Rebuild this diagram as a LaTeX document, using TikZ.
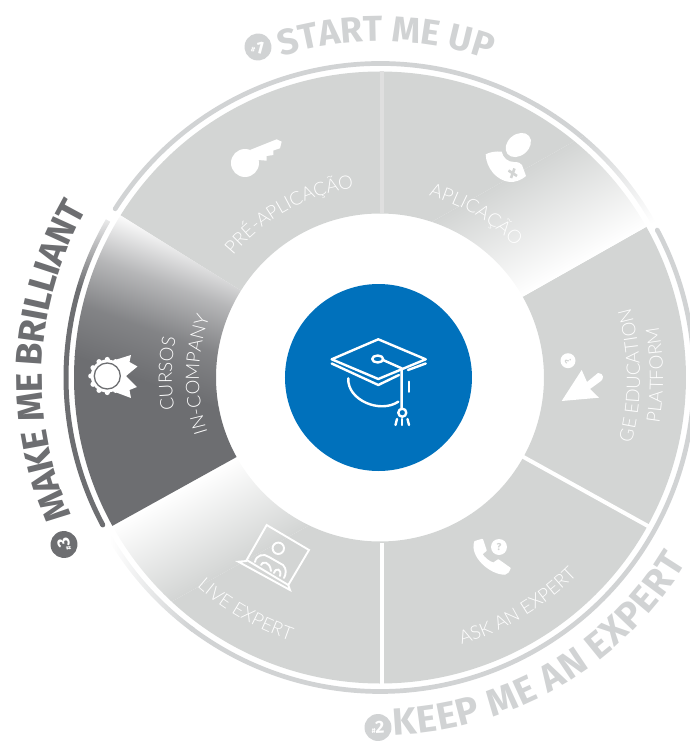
\documentclass[tikz,border=0pt]{standalone}
\usepackage{fontspec}
\usetikzlibrary{decorations.text}
\newfontfamily\headfont{Fira Sans}
\newfontfamily\labelfont{Lato Light}
\definecolor{wheelgray}{HTML}{D3D5D4}
\definecolor{titlegray}{HTML}{D1D3D4}
\definecolor{darkgray}{HTML}{6D6E71}
\definecolor{capblue}{HTML}{0071BC}
\def\rin{164}
\def\rout{306}
\pgfdeclarehorizontalshading{darkfade}{100bp}{color(0bp)=(white); color(25bp)=(white); color(42bp)=(darkgray!50!white); color(58bp)=(darkgray!85!white); color(75bp)=(darkgray); color(100bp)=(darkgray)}
% ring or wedge between two angles and two radii
\newcommand{\sector}[4]{({#1}:#3) -- ({#1}:#4) arc[start angle=#1,end angle=#2,radius=#4] -- ({#2}:#3) arc[start angle=#2,end angle=#1,radius=#3] -- cycle}
% text on an arc, tops outward
\newcommand{\textcw}[4]{\path[decorate,decoration={text along path,text align=center,text={|#3|#4}}] ({#1+75}:#2) arc[start angle=#1+75,end angle=#1-75,radius=#2];}
% text on an arc, tops to the centre
\newcommand{\textccw}[4]{\path[decorate,decoration={text along path,text align=center,text={|#3|#4}}] ({#1-75}:#2) arc[start angle=#1-75,end angle=#1+75,radius=#2];}
\newcommand{\labelfmt}{\labelfont\fontsize{18.6}{19}\selectfont\color{white}}
\tikzset{
  x=1pt,y=1pt,
  wedge/.style={fill=wheelgray},
  ringline/.style={draw=titlegray,line width=4.7pt,line cap=round},
  px/.style={shift={(-380,377.5)},yscale=-1},
  icon/.style={fill=white,draw=none},
  thinicon/.style={draw=white,line width=2.4pt,line cap=round,line join=round},
  laptopline/.style={draw=white,line width=1.9pt,line cap=round,line join=miter},
  numdot/.style={circle,minimum size=27pt,inner sep=0pt,font=\headfont\bfseries\fontsize{17.5}{17.5}\selectfont,text=white},
}
\newcommand{\numtext}[1]{{\fontsize{7}{7}\selectfont\#}#1}

\begin{document}
\begin{tikzpicture}
  \useasboundingbox (-380,-364.5) rectangle (309,377.5);
  % wedges
  \path[wedge] \sector{90}{148}{\rin}{\rout};
  \path[wedge] \sector{29.5}{-29}{\rin}{\rout};
  \path[wedge] \sector{-29}{-90}{\rin}{\rout};
  \begin{scope}
    \clip \sector{29.5}{90}{\rin}{\rout};
    \begin{scope}[transform canvas={rotate=-60.5}]
      \shade[left color=wheelgray,right color=white] (-110,-400) rectangle (0,400);
      \fill[wheelgray] (-400,-400) rectangle (-110,400);
    \end{scope}
  \end{scope}
  \begin{scope}
    \clip \sector{209}{270}{\rin}{\rout};
    \begin{scope}[transform canvas={rotate=-61}]
      \shade[left color=white,right color=wheelgray] (0,-400) rectangle (95,400);
      \fill[wheelgray] (95,-400) rectangle (400,400);
    \end{scope}
  \end{scope}
  \begin{scope}
    \clip \sector{148}{209}{\rin}{\rout};
    \begin{scope}[transform canvas={rotate=-110}]
      \shade[shading=darkfade] (-66,-500) rectangle (85,500);
      \fill[darkgray] (84,-500) rectangle (500,500);
    \end{scope}
  \end{scope}
  % gaps between the wedges
  \draw[line width=4pt,draw=white] (2.5,-\rin-1) -- (2.5,-\rout-1);
  \draw[line width=4pt,draw=white] (-29:\rin-1) -- (-29:\rout+1);
  \draw[line width=4pt,draw=gray!25] (2.5,\rin) -- (2.5,\rout);
  % outer ring
  \draw[ringline] (147.5:314) arc[start angle=147.5,end angle=60,radius=314];
  \begin{scope}
    \clip \sector{29}{60.1}{311.6}{316.4};
    \begin{scope}[transform canvas={rotate=-60.5}]
      \shade[left color=titlegray,right color=white] (-110,-400) rectangle (0,400);
      \fill[titlegray] (-400,-400) rectangle (-110,400);
    \end{scope}
  \end{scope}
  \draw[ringline] (28:314) arc[start angle=28,end angle=-127,radius=314];
  \begin{scope}
    \clip \sector{209}{233.5}{311.6}{316.4};
    \shade[left color=white,right color=titlegray] (-270,-300) rectangle (-190,-100);
    \fill[titlegray] (-190,-300) rectangle (0,-100);
  \end{scope}
  \begin{scope}
    \clip \sector{150}{208}{311.5}{316.5};
    \shade[top color=white,bottom color=darkgray] (-400,170) rectangle (-100,90);
    \fill[darkgray] (-400,90) rectangle (-100,-200);
  \end{scope}
  \fill[darkgray] (208:314) circle (2.5);
  % titles
  \textcw{89}{336}{\headfont\bfseries\fontsize{36}{36}\selectfont\color{titlegray}}{START ME UP}
  \textccw{-59.5}{358}{\headfont\bfseries\fontsize{38}{38}\selectfont\kern0.9pt\color{titlegray}}{KEEP ME AN EXPERT}
  \textcw{177}{338}{\headfont\bfseries\fontsize{37}{37}\selectfont\kern-0.8pt\color{darkgray}}{MAKE ME BRILLIANT}
  \node[numdot,fill=titlegray,rotate=-15] (num_1) at (-122,330.5) {\numtext{1}};
  \node[numdot,fill=titlegray,rotate=3] (num_2) at (-2,-350) {\numtext{2}};
  \node[numdot,fill=darkgray,rotate=105] (num_3) at (-316,-167) {\numtext{3}};
  % labels of the wedges
  \textcw{119}{191}{\labelfmt}{PRÉ-APLICAÇÃO}
  \textcw{59.5}{188}{\labelfmt}{APLICAÇÃO}
  \textcw{179}{208}{\labelfmt}{CURSOS}
  \textcw{179}{181}{\labelfmt}{IN-COMPANY}
  \textccw{0.5}{260}{\labelfmt}{GE EDUCATION}
  \textccw{0.5}{283}{\labelfmt}{PLATFORM}
  \textccw{240}{278}{\labelfmt}{LIVE EXPERT}
  \textccw{-59}{279}{\labelfmt}{ASK AN EXPERT}
  % centre
  \fill[capblue] (-1.5,0) circle (93.5);
  \begin{scope}[px]
    % cap
    \draw[thinicon] (378.3,339.3) -- (425.7,359.3) -- (378.3,379) -- (331.7,359.3) -- cycle;
    \draw[thinicon] (331.7,363.5) -- (378.3,385) -- (399,375);
    \draw[thinicon] (408,370) -- (425.7,363.5);
    \draw[thinicon] (348.3,378.3) .. controls (347,400) and (380,414) .. (398.3,401.7);
    \draw[thinicon] (409.3,381.7) -- (409.3,391.7);
    \draw[thinicon] (377.7,359) ellipse (5.5 and 3.5);
    \draw[thinicon] (383,360) -- (401.7,368.3) -- (401.7,408.3);
    \draw[thinicon] (402.3,412.7) circle (4);
    \draw[thinicon] (397,419) -- (395.5,425);
    \draw[thinicon] (402.3,419) -- (402.3,425);
    \draw[thinicon] (407.5,419) -- (409,425);
    % key
    \fill[icon] (245,163) circle (14);
    \fill[icon] (250,150) -- (276.7,139.3) -- (281.7,141.7) -- (280,148.3) -- (273.3,150.5) -- (273.5,155) -- (266.7,156) -- (266.7,160.7) -- (258.3,160) -- cycle;
    % user
    \fill[icon] (518.3,145) ellipse[x radius=14,y radius=10.5,rotate=-40];
    \fill[icon] (485.7,154.3) .. controls (490,152) and (496,151) .. (501.7,151.7) .. controls (503,158) and (508,162) .. (514,162) .. controls (518,162) and (521,163) .. (522,165) -- (526,176) .. controls (520,181) and (515,182) .. (510,182) .. controls (497,181) and (486,168) .. (485.7,154.3) -- cycle;
    \draw[draw=wheelgray,line width=2.6pt] (508.5,170.5) -- (517,176);
    \draw[draw=wheelgray,line width=2.6pt] (514.5,168.5) -- (511,178);
    % medal
    \fill[icon] (115,360) -- (131,355) -- (129.5,362) -- (137.5,366.5) -- (126,376) -- (137,387) -- (129.5,390) -- (131,398) -- (115,392) -- cycle;
    \fill[icon] (107.3,376) circle (16.5);
    \foreach \a in {0,30,...,330}
      \fill[icon] (107.3,376) ++(\a:16.5) circle (2.6);
    \draw[darkgray,line width=1.3pt] (107.3,376) circle (13);
    % cursor
    \fill[icon] (561.7,401) -- (581.7,370) -- (587,382) -- (598,373) .. controls (604,373) and (604,379) .. (601,381) -- (590,389) -- (599,397.7) -- cycle;
    \fill[icon] (568,360.7) circle (7.5);
    \node[font=\headfont\bfseries\fontsize{9}{9}\selectfont,text=wheelgray,rotate=120] (cursor_q) at (568,360.7) {?};
    % phone
    \fill[icon,draw=white,line width=1.5pt,line join=round] (475,541.7) -- (482.3,539.5) -- (486,550.5) -- (481.7,554) .. controls (484,558) and (489,562) .. (493.3,563.3) -- (498.3,560) -- (510,568.3) .. controls (509,571) and (508,573) .. (505,574) .. controls (490,574) and (470,556) .. (475,541.7) -- cycle;
    \fill[icon] (499,547) circle (8);
    \node[font=\headfont\bfseries\fontsize{10}{10}\selectfont,text=wheelgray] (phone_q) at (499,547) {?};
    % laptop
    \draw[laptopline] (266.7,525) -- (309,550) -- (288.3,585) -- (246.7,560) -- cycle;
    \draw[laptopline] (246.7,561) -- (238.3,561.7) -- (290,590) -- (288.3,585);
    \draw[laptopline] (278.3,548.3) circle (5.7);
    \draw[laptopline] (255,562) .. controls (256,555) and (264,553) .. (269,557) -- (283,565) .. controls (287,569) and (286,574) .. (284,578);
    \draw[laptopline] (261,565) .. controls (262,561) and (270,561) .. (271,571);
    \draw[laptopline] (274,573) .. controls (276,567) and (282,569) .. (280,576);
  \end{scope}
\end{tikzpicture}
\end{document}
